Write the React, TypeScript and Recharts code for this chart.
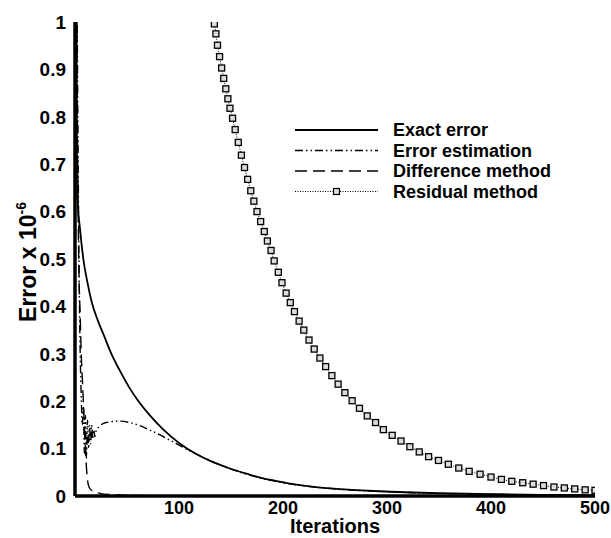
import React from 'react';
import { LineChart, Line, XAxis, YAxis, Legend } from 'recharts';

// Exact error
const exactIter = [1, 2, 5, 8, 12, 16, 22, 27, 35, 43, 53, 60, 72, 85, 100, 117, 130, 149, 165, 181, 200, 213, 245, 270, 293, 350, 400, 450, 500];
const exactErr = [1.3, 0.64, 0.56, 0.5, 0.45, 0.41, 0.37, 0.343, 0.3, 0.265, 0.226, 0.203, 0.17, 0.14, 0.112, 0.088, 0.074, 0.058, 0.047, 0.037, 0.029, 0.024, 0.016, 0.0125, 0.01, 0.006, 0.004, 0.0025, 0.0015];

// Error estimation
const estIter = [1, 2, 3, 4, 5, 6, 7, 8, 9, 10, 11, 12, 13, 14, 15, 16, 17, 18, 19, 20, 23, 30, 43, 56, 72, 91, 107, 123, 140, 165, 200, 245, 300, 400, 500];
const estErr = [1.5, 1.05, 0.72, 0.46, 0.3, 0.21, 0.15, 0.19, 0.09, 0.17, 0.08, 0.16, 0.1, 0.15, 0.11, 0.15, 0.12, 0.14, 0.125, 0.135, 0.146, 0.155, 0.158, 0.153, 0.139, 0.118, 0.099, 0.082, 0.065, 0.046, 0.028, 0.016, 0.009, 0.0035, 0.0013];

// Difference method
const diffIter = [1, 2, 3, 4, 5, 6, 7, 8, 9, 10, 11, 12, 13, 15, 20, 25, 35, 60, 100, 200, 500];
const diffErr = [1.4, 0.9, 0.6, 0.45, 0.38, 0.3, 0.25, 0.2, 0.15, 0.1, 0.06, 0.035, 0.022, 0.014, 0.008, 0.005, 0.003, 0.001, 0.0005, 0, 0];

// Residual method (one point per marker)
const resIter = [134, 135.5, 137, 139, 141, 143, 145, 147, 149, 151.5, 154, 157, 160, 163, 166, 169, 172, 175, 178.5, 182, 185, 188.5, 191.5, 195.5, 199, 203, 207, 211, 215.5, 220, 225, 230, 235.5, 241, 247, 253, 259.5, 266.5, 273.5, 281, 289, 296.5, 305, 313.5, 322, 331, 340, 349.5, 359, 369, 379, 389.5, 400, 410, 420, 430.5, 440.5, 450.5, 460.5, 470.5, 480.5, 490.5, 500];
const resErr = [0.996, 0.975, 0.951, 0.927, 0.903, 0.881, 0.859, 0.838, 0.818, 0.797, 0.773, 0.746, 0.719, 0.693, 0.668, 0.644, 0.622, 0.6, 0.579, 0.558, 0.538, 0.518, 0.496, 0.472, 0.45, 0.428, 0.408, 0.389, 0.369, 0.35, 0.329, 0.31, 0.291, 0.273, 0.254, 0.236, 0.218, 0.201, 0.185, 0.169, 0.155, 0.14, 0.128, 0.116, 0.104, 0.093, 0.083, 0.075, 0.067, 0.059, 0.052, 0.046, 0.04, 0.035, 0.031, 0.028, 0.025, 0.022, 0.019, 0.017, 0.015, 0.013, 0.012];

const xTicks = [100, 200, 300, 400, 500];
const yTicks = [0, 0.1, 0.2, 0.3, 0.4, 0.5, 0.6, 0.7, 0.8, 0.9, 1];

const zip = (xs: number[], ys: number[]) => xs.map((x, i) => ({ x, y: ys[i] }));

const FONT = '"Liberation Sans", Arial, sans-serif';

const series = [
    { name: 'Exact error', data: zip(exactIter, exactErr), width: 1.8, dash: undefined, marker: false },
    { name: 'Error estimation', data: zip(estIter, estErr), width: 1.4, dash: '8 3 1.5 3 1.5 3', marker: false },
    { name: 'Difference method', data: zip(diffIter, diffErr), width: 1.4, dash: '12 6', marker: false },
    { name: 'Residual method', data: zip(resIter, resErr), width: 1, dash: '1 1.5', marker: true },
];

const SquareDot = (props: any) => {
    const { cx, cy } = props;
    if (cx == null || cy == null) return null;
    return <rect x={cx - 3} y={cy - 3} width={6} height={6} fill="#dcdcdc" stroke="#000" strokeWidth={1.3} />;
};

const LegendBox = () => (
    <svg width={280} height={86} style={{ display: 'block' }}>
        {series.map((s, i) => {
            const y = 10 + i * 20.5;
            return (
                <g key={s.name}>
                    <line x1={2} x2={85} y1={y} y2={y} stroke="#000" strokeWidth={s.width} strokeDasharray={s.dash} />
                    {s.marker && <rect x={40.5} y={y - 3} width={6} height={6} fill="#dcdcdc" stroke="#000" strokeWidth={1.2} />}
                    <text x={100} y={y} dominantBaseline="central" fontFamily={FONT} fontWeight="bold" fontSize={18} fill="#000">
                        {s.name}
                    </text>
                </g>
            );
        })}
    </svg>
);

const YLabel = () => (
    <text
        x={36}
        y={262}
        transform="rotate(-90, 36, 262)"
        textAnchor="middle"
        fontFamily={FONT}
        fontWeight="bold"
        fontSize={23}
        fill="#000"
    >
        Error x 10<tspan dy={-10} fontSize={14}>-6</tspan>
    </text>
);

export default function App() {
    return (
        <div style={{ position: 'absolute', left: 0, top: 0, background: '#fff' }}>
            <LineChart width={611} height={538} data={series[0].data} margin={{ top: 22, right: 16, left: 0, bottom: 0 }}>
                <XAxis
                    dataKey="x"
                    type="number"
                    domain={[0, 500]}
                    ticks={xTicks}
                    allowDataOverflow
                    height={42}
                    axisLine={{ stroke: '#000', strokeWidth: 3.5 }}
                    tickLine={false}
                    tickSize={0}
                    tickMargin={5}
                    tick={{ fill: '#000', fontSize: 18, fontWeight: 'bold', fontFamily: FONT }}
                    label={{ value: 'Iterations', position: 'insideBottom', offset: 5, fill: '#000', fontSize: 20, fontWeight: 'bold', fontFamily: FONT }}
                />
                <XAxis xAxisId="top" orientation="top" type="number" domain={[0, 500]} height={0} tick={false} tickLine={false} axisLine={{ stroke: '#000', strokeWidth: 2 }} />
                <YAxis
                    type="number"
                    domain={[0, 1]}
                    ticks={yTicks}
                    allowDataOverflow
                    width={75}
                    axisLine={{ stroke: '#000', strokeWidth: 3.5 }}
                    tickLine={false}
                    tickSize={0}
                    tickMargin={9}
                    tick={{ fill: '#000', fontSize: 19, fontWeight: 'bold', fontFamily: FONT }}
                    label={<YLabel />}
                />
                <YAxis yAxisId="right" orientation="right" type="number" domain={[0, 1]} width={0} tick={false} tickLine={false} axisLine={{ stroke: '#000', strokeWidth: 2.5 }} />
                <Legend
                    layout="vertical"
                    align="center"
                    verticalAlign="middle"
                    content={<LegendBox />}
                    wrapperStyle={{ position: 'absolute', left: 293, top: 120, width: 280 }}
                />
                {series.map((s) => (
                    <Line
                        key={s.name}
                        name={s.name}
                        data={s.data}
                        dataKey="y"
                        type={s.marker ? 'linear' : 'monotone'}
                        stroke="#000"
                        strokeWidth={s.width}
                        strokeDasharray={s.dash}
                        dot={s.marker ? <SquareDot /> : false}
                        activeDot={false}
                        isAnimationActive={false}
                    />
                ))}
            </LineChart>
        </div>
    );
}
